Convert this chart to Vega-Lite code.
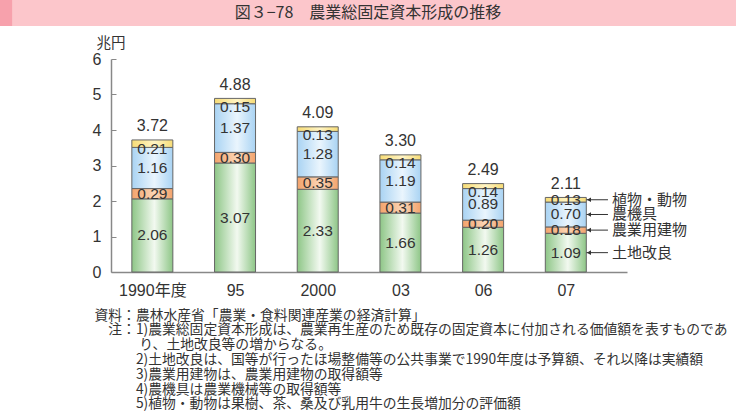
{
  "$schema": "https://vega.github.io/schema/vega-lite/v6.json",
  "width": 516,
  "height": 213,
  "padding": 0,
  "background": "white",
  "config": {
    "view": {"stroke": null},
    "text": {"font": "Liberation Sans, Noto Sans CJK JP"},
    "axis": {"labelFont": "Liberation Sans, Noto Sans CJK JP", "titleFont": "Noto Sans CJK JP"}
  },
  "datasets": {
    "seg": [
      {"i": 0, "s": "土地改良", "k": 0, "v": 2.06},
      {"i": 0, "s": "農業用建物", "k": 1, "v": 0.29},
      {"i": 0, "s": "農機具", "k": 2, "v": 1.16},
      {"i": 0, "s": "植物・動物", "k": 3, "v": 0.21},
      {"i": 1, "s": "土地改良", "k": 0, "v": 3.07},
      {"i": 1, "s": "農業用建物", "k": 1, "v": 0.30},
      {"i": 1, "s": "農機具", "k": 2, "v": 1.37},
      {"i": 1, "s": "植物・動物", "k": 3, "v": 0.15},
      {"i": 2, "s": "土地改良", "k": 0, "v": 2.33},
      {"i": 2, "s": "農業用建物", "k": 1, "v": 0.35},
      {"i": 2, "s": "農機具", "k": 2, "v": 1.28},
      {"i": 2, "s": "植物・動物", "k": 3, "v": 0.13},
      {"i": 3, "s": "土地改良", "k": 0, "v": 1.66},
      {"i": 3, "s": "農業用建物", "k": 1, "v": 0.31},
      {"i": 3, "s": "農機具", "k": 2, "v": 1.19},
      {"i": 3, "s": "植物・動物", "k": 3, "v": 0.14},
      {"i": 4, "s": "土地改良", "k": 0, "v": 1.26},
      {"i": 4, "s": "農業用建物", "k": 1, "v": 0.20},
      {"i": 4, "s": "農機具", "k": 2, "v": 0.89},
      {"i": 4, "s": "植物・動物", "k": 3, "v": 0.14},
      {"i": 5, "s": "土地改良", "k": 0, "v": 1.09},
      {"i": 5, "s": "農業用建物", "k": 1, "v": 0.18},
      {"i": 5, "s": "農機具", "k": 2, "v": 0.70},
      {"i": 5, "s": "植物・動物", "k": 3, "v": 0.13}
    ],
    "tot": [
      {"i": 0, "t": 3.72},
      {"i": 1, "t": 4.88},
      {"i": 2, "t": 4.09},
      {"i": 3, "t": 3.30},
      {"i": 4, "t": 2.49},
      {"i": 5, "t": 2.11}
    ],
    "head": [{"t": "図３−78　農業総固定資本形成の推移"}]
  },
  "data": {"name": "seg"},
  "transform": [
    {"stack": "v", "groupby": ["i"], "sort": [{"field": "k", "order": "ascending"}], "as": ["y0", "y1"]},
    {"calculate": "(datum.y0 + datum.y1) / 2", "as": "ym"}
  ],
  "layer": [
    {
      "data": {"name": "head"},
      "mark": {"type": "rect", "fill": "#fcc6cb"},
      "encoding": {
        "x": {"datum": 0, "type": "quantitative", "scale": {"domain": [0, 1], "range": [-111, 625], "nice": false, "zero": false, "padding": 0}, "axis": null},
        "x2": {"datum": 1},
        "y": {"datum": 0, "type": "quantitative", "scale": {"domain": [0, 1], "range": [-33, -59], "nice": false, "zero": false}, "axis": null},
        "y2": {"datum": 1}
      }
    },
    {
      "data": {"name": "head"},
      "mark": {"type": "rect", "fill": "#f7a1ac"},
      "encoding": {
        "x": {"datum": 0, "type": "quantitative", "scale": {"domain": [0, 1], "range": [-111, 625], "nice": false, "zero": false, "padding": 0}, "axis": null},
        "x2": {"datum": 0.0165},
        "y": {"datum": 0, "type": "quantitative", "scale": {"domain": [0, 1], "range": [-33, -59], "nice": false, "zero": false}, "axis": null},
        "y2": {"datum": 1}
      }
    },
    {
      "data": {"name": "head"},
      "mark": {"type": "text", "fontSize": 16, "color": "#333333", "font": "Noto Sans CJK JP", "baseline": "middle", "align": "center"},
      "encoding": {
        "x": {"datum": 0.5, "type": "quantitative", "scale": {"domain": [0, 1], "range": [-111, 625], "nice": false, "zero": false}, "axis": null},
        "y": {"datum": 0.5, "type": "quantitative", "scale": {"domain": [0, 1], "range": [-33, -59], "nice": false, "zero": false}, "axis": null},
        "text": {"field": "t"}
      }
    },
    {
      "transform": [{"filter": "datum.k == 0"}],
      "mark": {"type": "bar", "width": 41, "stroke": "#666666", "strokeWidth": 1,
        "fill": {"gradient": "linear", "x1": 0, "y1": 0, "x2": 1, "y2": 0, "stops": [{"offset": 0, "color": "#8ec687"}, {"offset": 0.55, "color": "#f2f9f0"}, {"offset": 1, "color": "#8ec687"}]}},
      "encoding": {
        "x": {
          "field": "i",
          "type": "quantitative",
          "scale": {"domain": [-0.5, 5.74], "nice": false, "zero": false, "padding": 0},
          "axis": {
            "values": [0, 1, 2, 3, 4, 5],
            "labelExpr": "['1990年度','95','2000','03','06','07'][datum.value]",
            "ticks": false,
            "grid": false,
            "domainColor": "#888888",
            "domainWidth": 1.5,
            "labelFontSize": 16,
            "labelColor": "#333333",
            "labelPadding": 10,
            "labelFlush": false,
            "labelOverlap": false,
            "title": [
              "資料：農林水産省「農業・食料関連産業の経済計算」",
              "\u200b\u3000注：1)農業総固定資本形成は、農業再生産のため既存の固定資本に付加される価値額を表すものであ",
              "\u200b\u3000\u3000\u3000\u2005り、土地改良等の増からなる。",
              "\u200b\u3000\u3000\u30002)土地改良は、国等が行ったほ場整備等の公共事業で1990年度は予算額、それ以降は実績額",
              "\u200b\u3000\u3000\u30003)農業用建物は、農業用建物の取得額等",
              "\u200b\u3000\u3000\u30004)農機具は農業機械等の取得額等",
              "\u200b\u3000\u3000\u30005)植物・動物は果樹、茶、桑及び乳用牛の生長増加分の評価額"
            ],
            "titleFontSize": 13.8,
            "titleFontWeight": "normal",
            "titleColor": "#333333",
            "titleAnchor": "start",
            "titleAlign": "left",
            "titleBaseline": "top",
            "titleX": -17,
            "titleY": 36,
            "titleLineHeight": 14.8
          }
        },
        "y": {
          "field": "y0",
          "type": "quantitative",
          "scale": {"domain": [0, 6], "nice": false, "zero": true},
          "axis": {
            "values": [0, 1, 2, 3, 4, 5, 6],
            "title": "兆円",
            "titleAngle": 0,
            "titleX": -15,
            "titleY": -16,
            "titleAlign": "left",
            "titleBaseline": "middle",
            "titleFontSize": 14.5,
            "titleFontWeight": "normal",
            "titleColor": "#333333",
            "tickSize": -5,
            "tickColor": "#888888",
            "labelPadding": 15,
            "domainColor": "#888888",
            "domainWidth": 1.5,
            "grid": false,
            "labelFontSize": 16,
            "labelColor": "#333333"
          }
        },
        "y2": {"field": "y1"}
      }
    },
    {
      "transform": [{"filter": "datum.k == 1"}],
      "mark": {"type": "bar", "width": 41, "stroke": "#666666", "strokeWidth": 1,
        "fill": {"gradient": "linear", "x1": 0, "y1": 0, "x2": 1, "y2": 0, "stops": [{"offset": 0, "color": "#f3a36c"}, {"offset": 0.55, "color": "#fbd5b5"}, {"offset": 1, "color": "#f3a36c"}]}},
      "encoding": {
        "x": {"field": "i", "type": "quantitative", "scale": {"domain": [-0.5, 5.74], "nice": false, "zero": false, "padding": 0}, "axis": null},
        "y": {"field": "y0", "type": "quantitative", "scale": {"domain": [0, 6], "nice": false}, "axis": null},
        "y2": {"field": "y1"}
      }
    },
    {
      "transform": [{"filter": "datum.k == 2"}],
      "mark": {"type": "bar", "width": 41, "stroke": "#666666", "strokeWidth": 1,
        "fill": {"gradient": "linear", "x1": 0, "y1": 0, "x2": 1, "y2": 0, "stops": [{"offset": 0, "color": "#a9d3f3"}, {"offset": 0.55, "color": "#eaf5fd"}, {"offset": 1, "color": "#a9d3f3"}]}},
      "encoding": {
        "x": {"field": "i", "type": "quantitative", "scale": {"domain": [-0.5, 5.74], "nice": false, "zero": false, "padding": 0}, "axis": null},
        "y": {"field": "y0", "type": "quantitative", "scale": {"domain": [0, 6], "nice": false}, "axis": null},
        "y2": {"field": "y1"}
      }
    },
    {
      "transform": [{"filter": "datum.k == 3"}],
      "mark": {"type": "bar", "width": 41, "stroke": "#666666", "strokeWidth": 1,
        "fill": {"gradient": "linear", "x1": 0, "y1": 0, "x2": 1, "y2": 0, "stops": [{"offset": 0, "color": "#f7dc76"}, {"offset": 0.55, "color": "#fff4c4"}, {"offset": 1, "color": "#f7dc76"}]}},
      "encoding": {
        "x": {"field": "i", "type": "quantitative", "scale": {"domain": [-0.5, 5.74], "nice": false, "zero": false, "padding": 0}, "axis": null},
        "y": {"field": "y0", "type": "quantitative", "scale": {"domain": [0, 6], "nice": false}, "axis": null},
        "y2": {"field": "y1"}
      }
    },
    {
      "mark": {"type": "text", "fontSize": 15.5, "color": "#333333", "baseline": "middle", "align": "center",
        "dy": {"expr": "datum.k == 3 && datum.i != 5 ? 5.5 : 0"}},
      "encoding": {
        "x": {"field": "i", "type": "quantitative", "scale": {"domain": [-0.5, 5.74], "nice": false, "zero": false, "padding": 0}, "axis": null},
        "y": {"field": "ym", "type": "quantitative", "scale": {"domain": [0, 6], "nice": false}, "axis": null},
        "text": {"field": "v", "type": "quantitative", "format": ".2f"}
      }
    },
    {
      "transform": [{"filter": "datum.i == 5"}],
      "mark": {"type": "rule", "color": "#333333", "strokeWidth": 1},
      "encoding": {
        "x": {"datum": 5.25, "type": "quantitative", "scale": {"domain": [-0.5, 5.74], "nice": false, "zero": false, "padding": 0}, "axis": null},
        "x2": {"datum": 5.51},
        "y": {"field": "ym", "type": "quantitative", "scale": {"domain": [0, 6], "nice": false}, "axis": null}
      }
    },
    {
      "transform": [{"filter": "datum.i == 5"}],
      "mark": {"type": "point", "shape": "triangle-left", "filled": true, "color": "#333333", "size": 22, "opacity": 1},
      "encoding": {
        "x": {"datum": 5.28, "type": "quantitative", "scale": {"domain": [-0.5, 5.74], "nice": false, "zero": false, "padding": 0}, "axis": null},
        "y": {"field": "ym", "type": "quantitative", "scale": {"domain": [0, 6], "nice": false}, "axis": null}
      }
    },
    {
      "transform": [{"filter": "datum.i == 5"}],
      "mark": {"type": "text", "align": "left", "baseline": "middle", "fontSize": 15, "font": "Noto Sans CJK JP", "color": "#333333"},
      "encoding": {
        "x": {"datum": 5.56, "type": "quantitative", "scale": {"domain": [-0.5, 5.74], "nice": false, "zero": false, "padding": 0}, "axis": null},
        "y": {"field": "ym", "type": "quantitative", "scale": {"domain": [0, 6], "nice": false}, "axis": null},
        "text": {"field": "s"}
      }
    },
    {
      "data": {"name": "tot"},
      "mark": {"type": "text", "dy": -13.5, "fontSize": 16, "color": "#333333", "baseline": "middle", "align": "center"},
      "encoding": {
        "x": {"field": "i", "type": "quantitative", "scale": {"domain": [-0.5, 5.74], "nice": false, "zero": false, "padding": 0}, "axis": null},
        "y": {"field": "t", "type": "quantitative", "scale": {"domain": [0, 6], "nice": false}, "axis": null},
        "text": {"field": "t", "type": "quantitative", "format": ".2f"}
      }
    }
  ],
  "resolve": {"scale": {"x": "independent", "y": "independent"}}
}
